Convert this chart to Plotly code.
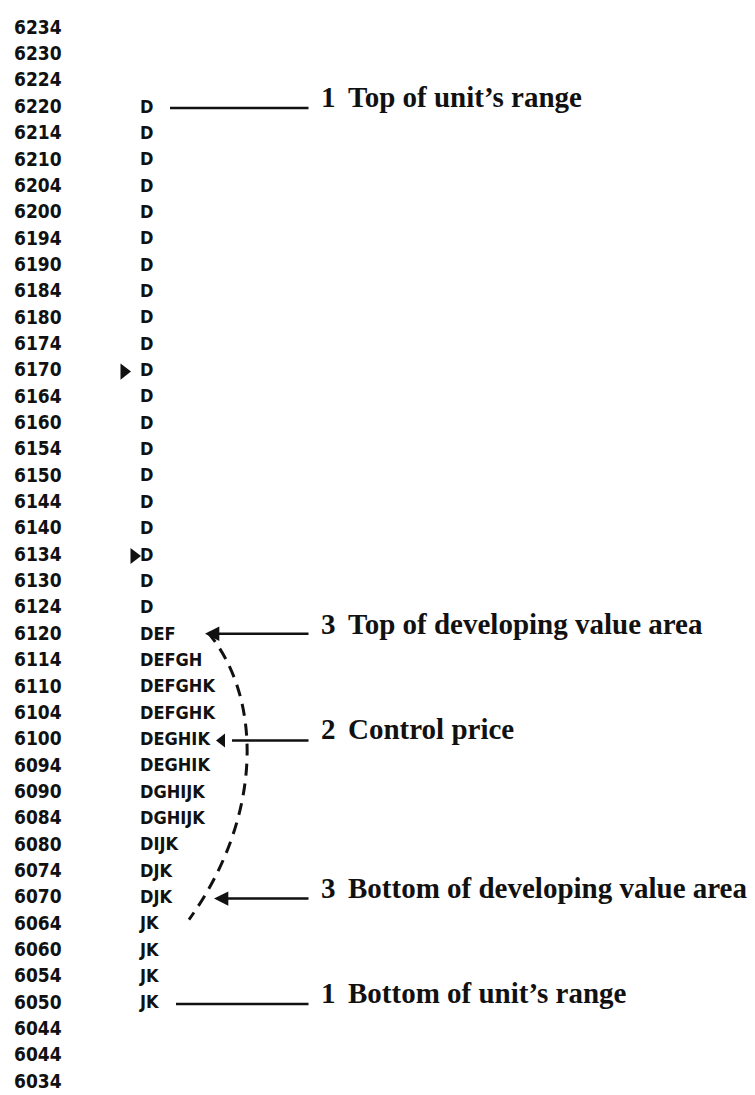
"""Market profile: developing value area and control price, drawn with Plotly."""

import plotly.graph_objects as go

# price ladder, top to bottom (as printed, including the repeated 6044)
prices = [
    "6234", "6230", "6224", "6220", "6214", "6210", "6204", "6200", "6194",
    "6190", "6184", "6180", "6174", "6170", "6164", "6160", "6154", "6150",
    "6144", "6140", "6134", "6130", "6124", "6120", "6114", "6110", "6104",
    "6100", "6094", "6090", "6084", "6080", "6074", "6070", "6064", "6060",
    "6054", "6050", "6044", "6044", "6034",
]

# time-price letters printed at each price
tpo = (
    ["", "", ""]
    + ["D"] * 20
    + ["DEF", "DEFGH", "DEFGHK", "DEFGHK", "DEGHIK", "DEGHIK", "DGHIJK",
       "DGHIJK", "DIJK", "DJK", "DJK", "JK", "JK", "JK", "JK"]
    + ["", "", ""]
)

# small pointer triangles beside the profile
pointer_right = ["6170", "6134"]
pointer_left = ["6100"]

# callouts: number, text, price they point at
callout_num = ["1", "3", "2", "3", "1"]
callout_text = [
    "Top of unit\u2019s range",
    "Top of developing value area",
    "Control price",
    "Bottom of developing value area",
    "Bottom of unit\u2019s range",
]
callout_price = ["6220", "6120", "6100", "6070", "6050"]

# value area bracket: from its top to just under its bottom
va_top, va_control, va_bottom = "6120", "6100", "6064"

W, H = 755, 1095
ROW0, ROW_H = 21, 26.35
rows = list(range(len(prices)))
row_of = {p: prices.index(p) for p in prices}

SANS = "DejaVu Sans Condensed, Roboto, sans-serif"
SERIF = "Liberation Serif, Times New Roman, serif"
INK = "#111111"

fig = go.Figure()

fig.add_trace(go.Scatter(
    x=[6] * len(prices), y=rows, text=prices, mode="text",
    textposition="middle right",
    textfont=dict(family=SANS, size=19, color=INK, weight="bold"),
    hoverinfo="skip",
))
fig.add_trace(go.Scatter(
    x=[132] * len(tpo), y=rows, text=tpo, mode="text",
    textposition="middle right",
    textfont=dict(family=SANS, size=18, color=INK, weight="bold"),
    hoverinfo="skip",
))

ptr_x = {"6170": 116, "6134": 126}
fig.add_trace(go.Scatter(
    x=[ptr_x[p] for p in pointer_right], y=[row_of[p] for p in pointer_right],
    mode="markers", marker=dict(symbol="triangle-right", size=14, color=INK),
    hoverinfo="skip",
))
fig.add_trace(go.Scatter(
    x=[214] * len(pointer_left), y=[row_of[p] for p in pointer_left],
    mode="markers", marker=dict(symbol="triangle-left", size=12, color=INK),
    hoverinfo="skip",
))

# leader lines
line_start = {"6220": 162, "6120": 197, "6100": 224, "6070": 206, "6050": 168}
has_head = {"6220": False, "6120": True, "6100": False, "6070": True, "6050": False}
for num, txt, p in zip(callout_num, callout_text, callout_price):
    r = row_of[p]
    y_line = r - (0.05 if p == "6120" else 0)
    fig.add_annotation(
        x=line_start[p], y=y_line, ax=302, ay=y_line, axref="x", ayref="y",
        xref="x", yref="y", text="", showarrow=True,
        arrowhead=2 if has_head[p] else 0, arrowsize=1.1, arrowwidth=2.6,
        arrowcolor=INK,
    )
    fig.add_annotation(
        x=311, y=r, xref="x", yref="y", text=num, showarrow=False,
        xanchor="left", yanchor="middle", yshift=11,
        font=dict(family=SERIF, size=29, color=INK, weight="bold"),
    )
    fig.add_annotation(
        x=338, y=r, xref="x", yref="y", text=txt, showarrow=False,
        xanchor="left", yanchor="middle", yshift=11,
        font=dict(family=SERIF, size=29, color=INK, weight="bold"),
    )

# dashed bracket around the developing value area
y0 = row_of[va_top] - 0.1
y1 = row_of[va_bottom] - 0.2
yc = row_of[va_control]
fig.add_shape(
    type="path", xref="x", yref="y",
    path=f"M 200,{y0} C 255,{yc - 1.6} 255,{yc + 2.9} 181,{y1}",
    line=dict(color=INK, width=3, dash="12px,8px"),
)

fig.update_xaxes(range=[0, W], visible=False, fixedrange=True)
fig.update_yaxes(
    range=[(H - ROW0) / ROW_H, -ROW0 / ROW_H], visible=False, fixedrange=True,
)
fig.update_layout(
    width=W, height=H, margin=dict(l=0, r=0, t=0, b=0),
    paper_bgcolor="white", plot_bgcolor="white", showlegend=False,
)

fig.write_html("out.html")
